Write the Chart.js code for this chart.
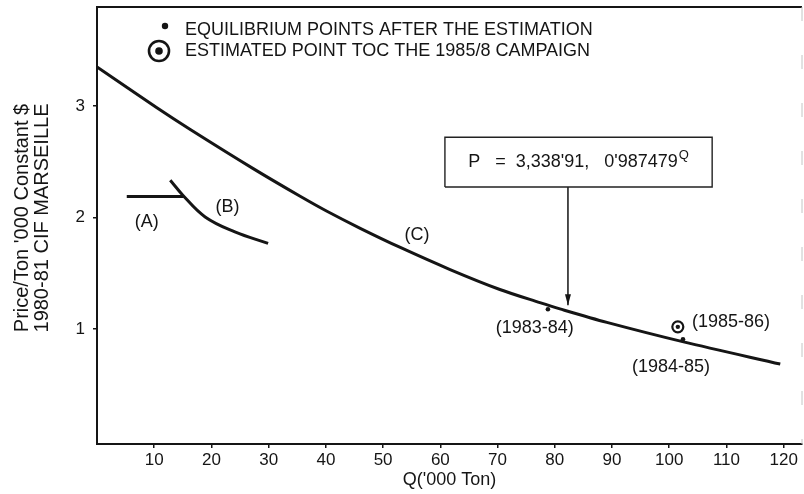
<!DOCTYPE html>
<html>
<head>
<meta charset="utf-8">
<script src="https://cdn.jsdelivr.net/npm/chart.js@4.4.1/dist/chart.umd.min.js"></script>
<style>
  html, body { margin: 0; padding: 0; background: #fff; }
  #wrap { width: 804px; height: 494px; position: relative; }
</style>
</head>
<body>
<div id="wrap"><canvas id="c" width="804" height="494"></canvas></div>
<script>
// ---- data ----
const xTicks = [10, 20, 30, 40, 50, 60, 70, 80, 90, 100, 110, 120];
const yTicks = [1, 2, 3];

// curve (C): fitted demand curve
const cQ = [0, 10.4, 16.3, 27.3, 35.5, 40.1, 46.0, 53.0, 61.7, 70.4, 77.4, 80.9, 89.1, 102.5, 119.4];
const cP = [3.352, 2.988, 2.791, 2.440, 2.192, 2.060, 1.905, 1.733, 1.535, 1.356, 1.238, 1.182, 1.061, 0.886, 0.687];

// curve (A)
const aQ = [5.2, 15.1];
const aP = [2.19, 2.19];

// curve (B)
const bQ = [12.8, 15.0, 18.9, 24.1, 29.9];
const bP = [2.336, 2.202, 2.007, 1.873, 1.769];

// equilibrium points after the estimation
const eqLabels = ['(1983-84)', '(1984-85)'];
const eqQ = [78.8, 102.4];
const eqP = [1.179, 0.910];

// estimated point for the 1985/86 campaign
const estLabels = ['(1985-86)'];
const estQ = [101.5];
const estP = [1.021];

// curve names
const curveLabels = ['(A)', '(B)', '(C)'];

// texts
const legendTexts = ['EQUILIBRIUM POINTS AFTER THE ESTIMATION', 'ESTIMATED POINT TOC THE 1985/8 CAMPAIGN'];
const formulaText = "P   =  3,338'91,   0'987479";
const formulaSup = 'Q';
const yTitle = ["Price/Ton '000 Constant $", '1980-81 CIF MARSEILLE'];
const xTitle = "Q('000 Ton)";

// ---- annotation placement (data coordinates) ----
const place = {
  curveLabelPos: [[8.7, 1.962], [22.8, 2.097], [55.9, 1.843]],
  eqLabelPos: [[76.5, 1.009], [100.3, 0.662]],
  estLabelPos: [[110.8, 1.065]],
  box: { q0: 60.8, q1: 107.5, p0: 2.276, p1: 2.722 },
  arrow: { q: 82.3, pFrom: 2.276, pTo: 1.215 }
};

const INK = '#151515';
const FONT = '"Liberation Sans", Arial, Helvetica, sans-serif';

const zip = (xs, ys) => xs.map((x, i) => ({ x: x, y: ys[i] }));
const b = place.box;
const boxPts = [{x:b.q0,y:b.p0},{x:b.q0,y:b.p1},{x:b.q1,y:b.p1},{x:b.q1,y:b.p0},{x:b.q0,y:b.p0}];
const arrowPts = [{x:place.arrow.q,y:place.arrow.pFrom},{x:place.arrow.q,y:place.arrow.pTo}];

const annot = {
  id: 'annot',
  afterDatasetsDraw(chart) {
    const ctx = chart.ctx;
    const xs = chart.scales.x, ys = chart.scales.y;
    const ca = chart.chartArea;
    ctx.save();
    // frame: top solid, right faint dashed
    ctx.strokeStyle = INK; ctx.lineWidth = 2;
    ctx.beginPath(); ctx.moveTo(ca.left - 1, ca.top); ctx.lineTo(ca.right, ca.top); ctx.stroke();
    ctx.strokeStyle = '#c4c4c4'; ctx.lineWidth = 1; ctx.setLineDash([14, 34]);
    ctx.beginPath(); ctx.moveTo(ca.right, ca.top); ctx.lineTo(ca.right, ca.bottom); ctx.stroke();
    ctx.setLineDash([]);

    ctx.fillStyle = INK;
    ctx.font = '18px ' + FONT;
    ctx.textAlign = 'center'; ctx.textBaseline = 'middle';
    const put = (t, pos) => ctx.fillText(t, xs.getPixelForValue(pos[0]), ys.getPixelForValue(pos[1]));
    curveLabels.forEach((t, i) => put(t, place.curveLabelPos[i]));
    eqLabels.forEach((t, i) => put(t, place.eqLabelPos[i]));
    estLabels.forEach((t, i) => put(t, place.estLabelPos[i]));

    // formula in box
    const cx = (xs.getPixelForValue(b.q0) + xs.getPixelForValue(b.q1)) / 2;
    const cy = (ys.getPixelForValue(b.p0) + ys.getPixelForValue(b.p1)) / 2;
    ctx.font = '18px ' + FONT;
    const w1 = ctx.measureText(formulaText).width;
    ctx.font = '13px ' + FONT;
    const w2 = ctx.measureText(formulaSup).width;
    const sx = cx - (w1 + w2 + 1) / 2;
    ctx.textAlign = 'left';
    ctx.font = '18px ' + FONT;
    ctx.fillText(formulaText, sx, cy);
    ctx.font = '13px ' + FONT;
    ctx.fillText(formulaSup, sx + w1 + 1, cy - 7);

    // arrowhead
    const ax = xs.getPixelForValue(place.arrow.q), ay = ys.getPixelForValue(place.arrow.pTo);
    ctx.beginPath(); ctx.moveTo(ax, ay); ctx.lineTo(ax - 3, ay - 11); ctx.lineTo(ax + 3, ay - 11); ctx.closePath(); ctx.fill();

    // legend
    const lx = ca.left + 68, tx = ca.left + 88;
    const l1 = ca.top + 23, l2 = ca.top + 44;
    ctx.beginPath(); ctx.arc(lx, l1 - 4, 3.2, 0, Math.PI * 2); ctx.fill();
    ctx.lineWidth = 2.6; ctx.strokeStyle = INK;
    ctx.beginPath(); ctx.arc(lx - 6, l2, 10, 0, Math.PI * 2); ctx.stroke();
    ctx.beginPath(); ctx.arc(lx - 6, l2, 3.8, 0, Math.PI * 2); ctx.fill();
    ctx.font = '18px ' + FONT; ctx.textAlign = 'left';
    ctx.fillText(legendTexts[0], tx, l1);
    ctx.fillText(legendTexts[1], tx, l2);

    // y axis title (two rotated lines)
    ctx.save();
    ctx.translate(22, 218);
    ctx.rotate(-Math.PI / 2);
    ctx.font = '20px ' + FONT; ctx.textAlign = 'center';
    ctx.fillText(yTitle[0], 0, 0);
    ctx.fillText(yTitle[1], 0, 20);
    ctx.restore();
    ctx.restore();
  }
};

const noPad = s => { s.paddingTop = 0; s.paddingBottom = 0; s.paddingLeft = 0; s.paddingRight = 0; };

new Chart(document.getElementById('c'), {
  type: 'scatter',
  data: {
    datasets: [
      { data: zip(cQ, cP), showLine: true, borderColor: INK, borderWidth: 3, pointRadius: 0, tension: 0.3 },
      { data: zip(aQ, aP), showLine: true, borderColor: INK, borderWidth: 3, pointRadius: 0 },
      { data: zip(bQ, bP), showLine: true, borderColor: INK, borderWidth: 3, pointRadius: 0, tension: 0.4 },
      { data: zip(eqQ, eqP), showLine: false, pointRadius: 2.3, pointBackgroundColor: INK, pointBorderWidth: 0 },
      { data: zip(estQ, estP), showLine: false, pointRadius: 2.2, pointBackgroundColor: INK, pointBorderWidth: 0 },
      { data: zip(estQ, estP), showLine: false, pointRadius: 5.5, pointBackgroundColor: '#fff', pointBorderColor: INK, pointBorderWidth: 2.2 },
      { data: boxPts, showLine: true, borderColor: '#222', borderWidth: 1.4, pointRadius: 0, tension: 0 },
      { data: arrowPts, showLine: true, borderColor: INK, borderWidth: 1.5, pointRadius: 0, tension: 0 }
    ]
  },
  options: {
    responsive: false,
    animation: false,
    events: [],
    layout: { autoPadding: false, padding: { top: 7, right: 2, left: 0, bottom: 0 } },
    plugins: { legend: { display: false }, title: { display: false }, tooltip: { enabled: false } },
    scales: {
      x: {
        type: 'linear', min: 0, max: 123.2,
        afterBuildTicks: s => { s.ticks = xTicks.map(v => ({ value: v })); },
        afterFit: s => { s.height = 50; noPad(s); },
        border: { display: true, color: INK, width: 2 },
        grid: { display: true, drawOnChartArea: false, drawTicks: true, tickLength: 4, color: INK, lineWidth: 1.5 },
        ticks: { color: INK, font: { family: FONT, size: 17 }, padding: 2, maxRotation: 0, autoSkip: false },
        title: { display: true, text: xTitle, color: INK, font: { family: FONT, size: 18, lineHeight: 1.1 }, padding: { top: 0, bottom: 4 } }
      },
      y: {
        type: 'linear', min: -0.03, max: 3.89,
        afterBuildTicks: s => { s.ticks = yTicks.map(v => ({ value: v })); },
        afterFit: s => { s.width = 97; noPad(s); },
        border: { display: true, color: INK, width: 2 },
        grid: { display: true, drawOnChartArea: false, drawTicks: true, tickLength: 4, color: INK, lineWidth: 1.5 },
        ticks: { color: INK, font: { family: FONT, size: 17 }, padding: 8 },
        title: { display: false }
      }
    }
  },
  plugins: [annot]
});
</script>
</body>
</html>
